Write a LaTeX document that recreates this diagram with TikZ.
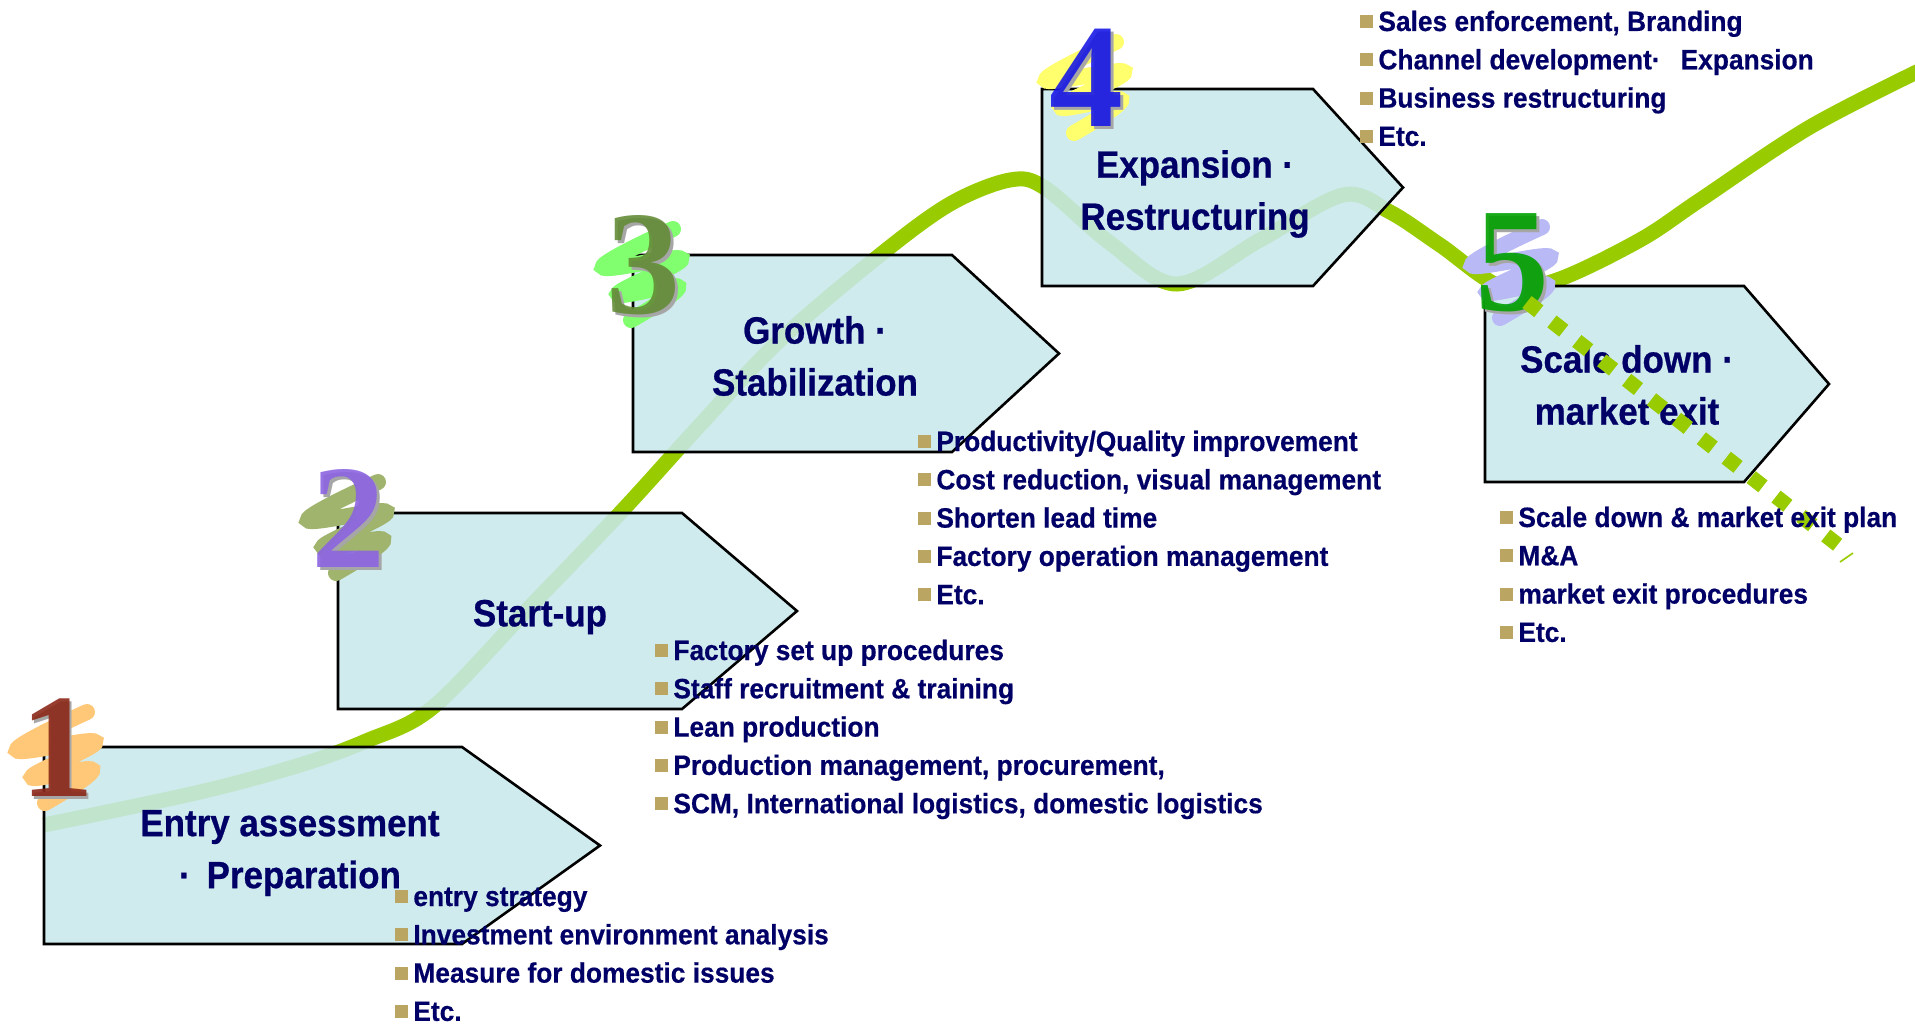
\documentclass[tikz,border=0pt]{standalone}
\usepackage{fontspec}
\setmainfont{Liberation Sans}[FakeStretch=0.92,BoldFeatures={FakeBold=0.6}]
\newfontfamily\itemfont{Liberation Sans}[FakeStretch=0.94,BoldFeatures={FakeBold=0.5}]
\newfontfamily\digitfont{Liberation Serif}

\definecolor{navy}{RGB}{0,0,102}
\definecolor{curvegreen}{RGB}{153,204,0}
\definecolor{stagefill}{RGB}{200,232,236}
\definecolor{bulletc}{RGB}{186,166,98}
\definecolor{onemain}{RGB}{140,40,25}
\definecolor{oneswirl}{RGB}{255,200,120}
\definecolor{twomain}{RGB}{140,100,225}
\definecolor{twoswirl}{RGB}{160,180,110}
\definecolor{threemain}{RGB}{100,140,55}
\definecolor{threeswirl}{RGB}{130,255,110}
\definecolor{fourmain}{RGB}{25,25,230}
\definecolor{fourswirl}{RGB}{255,255,110}
\definecolor{fivemain}{RGB}{0,160,0}
\definecolor{fiveswirl}{RGB}{185,185,245}

\tikzset{
  stage/.style={draw=black,line width=1.3pt,fill=stagefill,fill opacity=.87},
  title/.style={text=navy,font=\fontsize{19}{26}\selectfont\bfseries,align=center,inner sep=0pt},
  item/.style={text=navy,font=\itemfont\fontsize{14}{17}\selectfont\bfseries,anchor=base west,inner sep=0pt},
  curve/.style={curvegreen,line width=7.5pt},
  numeral/.style={font=\digitfont\bfseries\fontsize{74}{74}\selectfont,inner sep=0pt},
  swirl/.style={draw=#1,line width=8pt,line cap=round}
}

% small square in front of every item
\newcommand\bul{\textcolor{bulletc}{\raisebox{1.5pt}{\rule{6.5pt}{6.5pt}}}\hspace{2.5pt}}

% stage number: x, y, digit, colour, swirl colour
\newcommand\stagenum[5]{%
  \begin{scope}[shift={(#1,#2)}]
    \draw[swirl=#5] plot[smooth,tension=.7] coordinates
      {(30,-36) (-40,2) (38,-6) (-25,29) (35,22) (-12,55)};
    \node[numeral,text=black!35] at (3,3) {#3};
    \node[numeral,text=#4,text opacity=.9] (num#3) at (0,0) {#3};
  \end{scope}}

\begin{document}
\begin{tikzpicture}[x=.5pt,y=-.5pt]
      \useasboundingbox (0,0) rectangle (1915,1028);
      % the growth curve, behind the stages
      \draw[curve] plot[smooth,tension=.55] coordinates
        {(44,825) (200,792) (300,765) (366,741) (432,708) (525,612) (621,512)
         (700,425) (780,340) (880,255) (950,204) (1010,180) (1045,188)
         (1110,243) (1177,284) (1260,240) (1343,195) (1390,212) (1440,245)
         (1502,287) (1557,280) (1640,240) (1700,200) (1810,127) (1925,68)};

      % stages
      \draw[stage] (44,747) -- (462,747) -- (600,845.5) -- (462,944) -- (44,944) -- cycle;
      \draw[stage] (338,513) -- (682,513) -- (797,611) -- (682,709) -- (338,709) -- cycle;
      \draw[stage] (633,255) -- (952,255) -- (1059,353.5) -- (952,452) -- (633,452) -- cycle;
      \draw[stage] (1042,89) -- (1313,89) -- (1403,187.5) -- (1313,286) -- (1042,286) -- cycle;
      \draw[stage] (1485,286) -- (1744,286) -- (1829,384) -- (1744,482) -- (1485,482) -- cycle;

      \node[title] (entry) at (290,853) {Entry assessment\\·\hspace{8pt}Preparation};
      \node[title] (startup) at (540,617) {Start-up};
      \node[title] (growth) at (815,356) {Growth ·\\Stabilization};
      \node[title] (expansion) at (1195,194) {Expansion ·\\Restructuring};
      \node[title] (scaledown) at (1627,385) {Scale down ·\\market exit};

      \stagenum{57}{748}{1}{onemain}{oneswirl}
      \stagenum{348}{518}{2}{twomain}{twoswirl}
      \stagenum{643}{265}{3}{threemain}{threeswirl}
      \stagenum{1086}{78}{4}{fourmain}{fourswirl}
      \stagenum{1512}{263}{5}{fivemain}{fiveswirl}

      % exit path
      \draw[curvegreen,line width=7.5pt,dash pattern=on 7.5pt off 8.3pt] (1527,302) -- (1838,545);
      \draw[curvegreen,line width=.8pt] (1840,562) -- (1853,553);

      % item lists
      \foreach \itm [count=\i from 0] in {entry strategy,Investment environment analysis,
          Measure for domestic issues,Etc.}
        \node[item] (prep-\i) at (395,{906+38.3*\i}) {\bul\itm};
      \foreach \itm [count=\i from 0] in {Factory set up procedures,Staff recruitment \& training,
          Lean production,{Production management, procurement,},
          {SCM, International logistics, domestic logistics}}
        \node[item] (start-\i) at (655,{660+38.3*\i}) {\bul\itm};
      \foreach \itm [count=\i from 0] in {Productivity/Quality improvement,
          {Cost reduction, visual management},Shorten lead time,
          Factory operation management,Etc.}
        \node[item] (grow-\i) at (918,{451+38.3*\i}) {\bul\itm};
      \foreach \itm [count=\i from 0] in {{Sales enforcement, Branding},
          Channel development·\hspace{10pt}Expansion,Business restructuring,Etc.}
        \node[item] (exp-\i) at (1360,{31+38.3*\i}) {\bul\itm};
      \foreach \itm [count=\i from 0] in {Scale down \& market exit plan,M\&A,
          market exit procedures,Etc.}
        \node[item] (exit-\i) at (1500,{527+38.3*\i}) {\bul\itm};
\end{tikzpicture}
\end{document}
